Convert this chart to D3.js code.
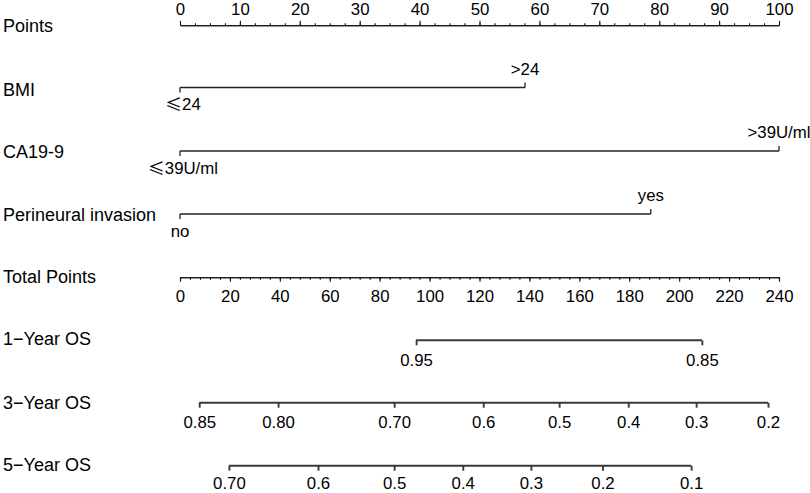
<!DOCTYPE html>
<html><head><meta charset="utf-8">
<script src="https://cdn.jsdelivr.net/npm/d3@7"></script>
<style>
body{margin:0;background:#fff;}
svg{display:block;font-family:"Liberation Sans",Arial,sans-serif;}
</style></head>
<body><svg id="c" width="810" height="493"></svg>
<script>
// ---- data ----
const pointTicks = [0,10,20,30,40,50,60,70,80,90,100];
const pointMinorStep = 2.5;
const totalTicks = [0,20,40,60,80,100,120,140,160,180,200,220,240];
const totalMinorStep = 4;

const bmiLevels = ["≤24", ">24"];
const bmiPoints = [0, 57.6];
const caLevels = ["≤39U/ml", ">39U/ml"];
const caPoints = [0, 100];
const pniLevels = ["no", "yes"];
const pniPoints = [0, 78.6];

const os1Labels = ["0.95", "0.85"];
const os1Total = [94.6, 209.1];
const os3Labels = ["0.85","0.80","0.70","0.6","0.5","0.4","0.3","0.2"];
const os3Total = [7.7, 39.3, 85.8, 121.5, 151.9, 179.6, 206.8, 235.6];
const os5Labels = ["0.70","0.6","0.5","0.4","0.3","0.2","0.1"];
const os5Total = [19.6, 55.3, 85.8, 113.3, 140.6, 169.3, 204.8];

const rowLabels = ["Points","BMI","CA19-9","Perineural invasion","Total Points","1\u2212Year OS","3\u2212Year OS","5\u2212Year OS"];

// ---- layout ----
const svg = d3.select("#c");
const x0 = 180, x1 = 779;
const xPts = d3.scaleLinear().domain([0,100]).range([x0,x1]);
const xTot = d3.scaleLinear().domain([0,240]).range([x0,x1]);
const rowY = [25.3, 87.5, 151, 214, 277.3, 340.3, 402.7, 465.7];
const labY = [27, 91, 153, 216, 278, 340, 404, 466];
const labFont = 18, tickFont = 16.8;
const FONT = "'Liberation Sans',Arial,sans-serif";

// row labels
svg.selectAll("text.row").data(rowLabels).join("text")
  .attr("class","row").attr("x",3).attr("y",(d,i)=>labY[i])
  .attr("dominant-baseline","middle")
  .attr("font-size",labFont).attr("fill","#000").text(d=>d);

// Points axis (ticks up)
const gP = svg.append("g").attr("transform",`translate(0,${rowY[0]})`);
const ptsMinor = d3.range(0,100+1e-9,pointMinorStep);
gP.call(d3.axisTop(xPts).tickValues(ptsMinor).tickSize(2).tickSizeOuter(0).tickFormat(""));
gP.append("g").call(d3.axisTop(xPts).tickValues(pointTicks).tickSize(4.5).tickSizeOuter(0).tickFormat(d3.format("d")).tickPadding(6));
gP.selectAll("text").attr("font-size",tickFont).attr("font-family",FONT).attr("fill","#000");
gP.selectAll("path.domain,line").attr("stroke","#111").attr("stroke-width",1.1);

// Total Points axis (ticks down)
const gT = svg.append("g").attr("transform",`translate(0,${rowY[4]})`);
const totMinor = d3.range(0,240+1e-9,totalMinorStep);
gT.call(d3.axisBottom(xTot).tickValues(totMinor).tickSize(2.5).tickSizeOuter(0).tickFormat(""));
gT.append("g").call(d3.axisBottom(xTot).tickValues(totalTicks).tickSize(4.5).tickSizeOuter(0).tickFormat(d3.format("d")).tickPadding(8.5));
gT.selectAll("text").attr("font-size",tickFont).attr("font-family",FONT).attr("fill","#000");
gT.selectAll("path.domain,line").attr("stroke","#111").attr("stroke-width",1.1);

// categorical variables
function catRow(levels, pts, y){
  const g = svg.append("g");
  g.append("line").attr("x1",xPts(d3.min(pts))).attr("x2",xPts(d3.max(pts)))
    .attr("y1",y).attr("y2",y).attr("stroke","#222").attr("stroke-width",1.3);
  pts.forEach((p,i)=>{
    const up = i % 2 === 1;
    g.append("line").attr("x1",xPts(p)).attr("x2",xPts(p))
      .attr("y1",y).attr("y2",up ? y-5 : y+5).attr("stroke","#222").attr("stroke-width",1.3);
    const t = g.append("text").attr("x",xPts(p)+(levels[i][0]==="≤"?3:0)).attr("y", up ? y-17 : y+18.5)
      .attr("text-anchor","middle").attr("dominant-baseline","middle")
      .attr("font-size",tickFont).attr("fill","#000").style("font-family",FONT);
    const s = levels[i];
    if (s[0] === "≤") {
      t.append("tspan").style("font-family","'Noto Sans CJK SC',sans-serif").text(s[0]);
      t.append("tspan").text(s.slice(1));
    } else t.text(s);
  });
}
catRow(bmiLevels, bmiPoints, rowY[1]);
catRow(caLevels, caPoints, rowY[2]);
catRow(pniLevels, pniPoints, rowY[3]);

// survival axes (ticks down)
function survRow(labels, tot, y, pad){
  const g = svg.append("g").attr("transform",`translate(0,${y})`);
  g.append("line").attr("x1",xTot(d3.min(tot))).attr("x2",xTot(d3.max(tot)))
    .attr("stroke","#3a3a3a").attr("stroke-width",1.9);
  const ax = d3.axisBottom(xTot).tickValues(tot).tickSize(5).tickSizeOuter(0)
    .tickPadding(pad).tickFormat((d,i)=>labels[i]);
  const ga = g.append("g").call(ax);
  ga.select("path.domain").remove();
  ga.selectAll("line").attr("stroke","#3a3a3a").attr("stroke-width",1.9);
  ga.selectAll("text").attr("font-size",tickFont).attr("font-family",FONT).attr("fill","#000");
}
survRow(os1Labels, os1Total, rowY[5], 8.5);
survRow(os3Labels, os3Total, rowY[6], 8.5);
survRow(os5Labels, os5Total, rowY[7], 6);
</script>
</body></html>
